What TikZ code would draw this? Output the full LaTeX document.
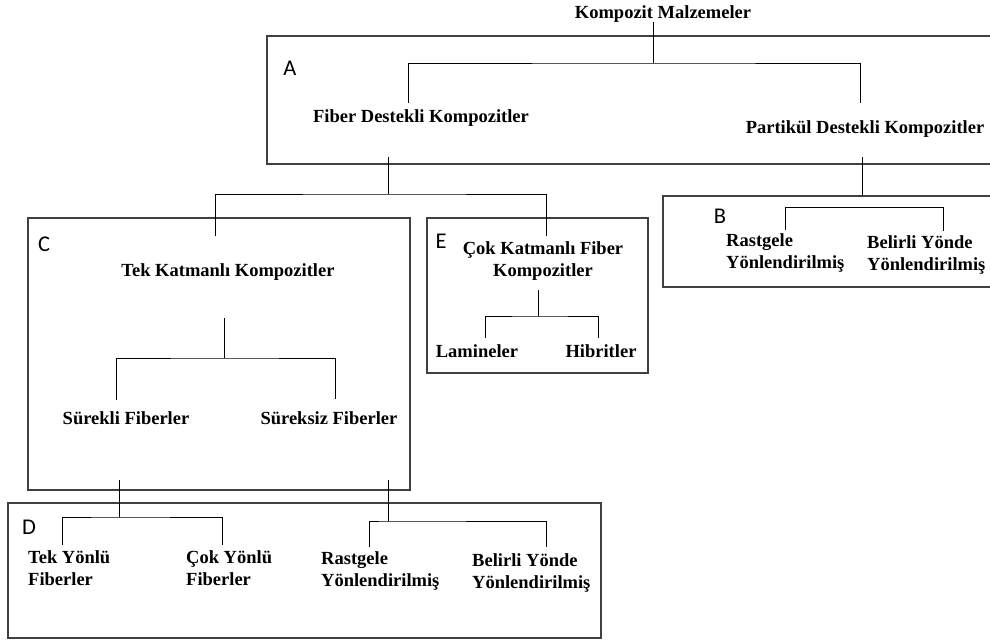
\documentclass[tikz,border=0pt]{standalone}
\usepackage{fontspec}
\setmainfont{Liberation Serif}
\setsansfont{Carlito}
\begin{document}
\begin{tikzpicture}[x=1pt,y=-1pt,
  lbl/.style={font=\bfseries\fontsize{18.5}{22}\selectfont, inner sep=0pt, align=center},
  lbll/.style={lbl, align=left, anchor=north west},
  tag/.style={font=\sffamily\fontsize{22.5}{24}\selectfont, inner sep=0pt},
  frame/.style={draw=black!75, line width=1.3pt},
  conn/.style={draw=black, line width=0.9pt}]
\useasboundingbox (0,0) rectangle (990,643);

% frames
\draw[frame] (994,36) -- (267,36) -- (267,164) -- (994,164);
\draw[frame] (994,196) -- (663,196) -- (663,287) -- (994,287);
\draw[frame] (28,218) rectangle (410,490);
\draw[frame] (427,218) rectangle (648,373);
\draw[frame] (8,503) rectangle (601,638);

% tags
\node[tag] (tA) at (290,68) {A};
\node[tag] (tB) at (720,216) {B};
\node[tag] (tC) at (44,244) {C};
\node[tag] (tD) at (29,527) {D};
\node[tag] (tE) at (441,241) {E};

% labels
\node[lbl] (km) at (663,14) {Kompozit Malzemeler};
\node[lbl] (fdk) at (421,118) {Fiber Destekli Kompozitler};
\node[lbl] (pdk) at (865,129) {Partikül Destekli Kompozitler};
\node[lbl] (tkk) at (228,272) {Tek Katmanlı Kompozitler};
\node[lbl] (sf) at (126,418) {Sürekli Fiberler};
\node[lbl] (ssf) at (329,418) {Süreksiz Fiberler};
\node[lbl] (ckf) at (543,261) {Çok Katmanlı Fiber\\Kompozitler};
\node[lbl] (lam) at (477,351) {Lamineler};
\node[lbl] (hib) at (601,351) {Hibritler};
\node[lbll] (bry) at (726,233) {Rastgele\\Yönlendirilmiş};
\node[lbll] (bby) at (867,235) {Belirli Yönde\\Yönlendirilmiş};
\node[lbll] (dty) at (28,550) {Tek Yönlü\\Fiberler};
\node[lbll] (dcy) at (186,550) {Çok Yönlü\\Fiberler};
\node[lbll] (dry) at (321,551) {Rastgele\\Yönlendirilmiş};
\node[lbll] (dby) at (472,553) {Belirli Yönde\\Yönlendirilmiş};

% connector coordinates
\coordinate (kmT) at (653,22);
\coordinate (kmJ) at (653,63);
\coordinate (fdkT) at (408,103);
\coordinate (pdkT) at (860,103);
\coordinate (fdkB) at (388,157);
\coordinate (fdkJ) at (388,194);
\coordinate (tkkT) at (215,236);
\coordinate (ckfT) at (546,236);
\coordinate (pdkB) at (862,157);
\coordinate (bJ) at (862,196);
\coordinate (bH) at (785,207);
\coordinate (bL) at (785,230);
\coordinate (bR) at (943,231);
\coordinate (tkkB) at (224,318);
\coordinate (tkkJ) at (224,358);
\coordinate (sfT) at (116,400);
\coordinate (ssfT) at (335,399);
\coordinate (ckfB) at (538,290);
\coordinate (ckfJ) at (538,316);
\coordinate (lamT) at (485,338);
\coordinate (hibT) at (598,338);
\coordinate (sfB) at (119,480);
\coordinate (sfJ) at (119,517);
\coordinate (dtyT) at (62,545);
\coordinate (dcyT) at (222,545);
\coordinate (ssfB) at (388,480);
\coordinate (ssfJ) at (388,521);
\coordinate (dryT) at (369,547);
\coordinate (dbyT) at (546,547);

% connectors
\draw[conn] (kmT) -- (kmJ);
\draw[conn] (fdkT) |- (kmJ) -| (pdkT);
\draw[conn] (fdkB) -- (fdkJ);
\draw[conn] (tkkT) |- (fdkJ) -| (ckfT);
\draw[conn] (pdkB) -- (bJ);
\draw[conn] (bL) |- (bH) -| (bR);
\draw[conn] (tkkB) -- (tkkJ);
\draw[conn] (sfT) |- (tkkJ) -| (ssfT);
\draw[conn] (ckfB) -- (ckfJ);
\draw[conn] (lamT) |- (ckfJ) -| (hibT);
\draw[conn] (sfB) -- (sfJ);
\draw[conn] (dtyT) |- (sfJ) -| (dcyT);
\draw[conn] (ssfB) -- (ssfJ);
\draw[conn] (dryT) |- (ssfJ) -| (dbyT);
\end{tikzpicture}
\end{document}
